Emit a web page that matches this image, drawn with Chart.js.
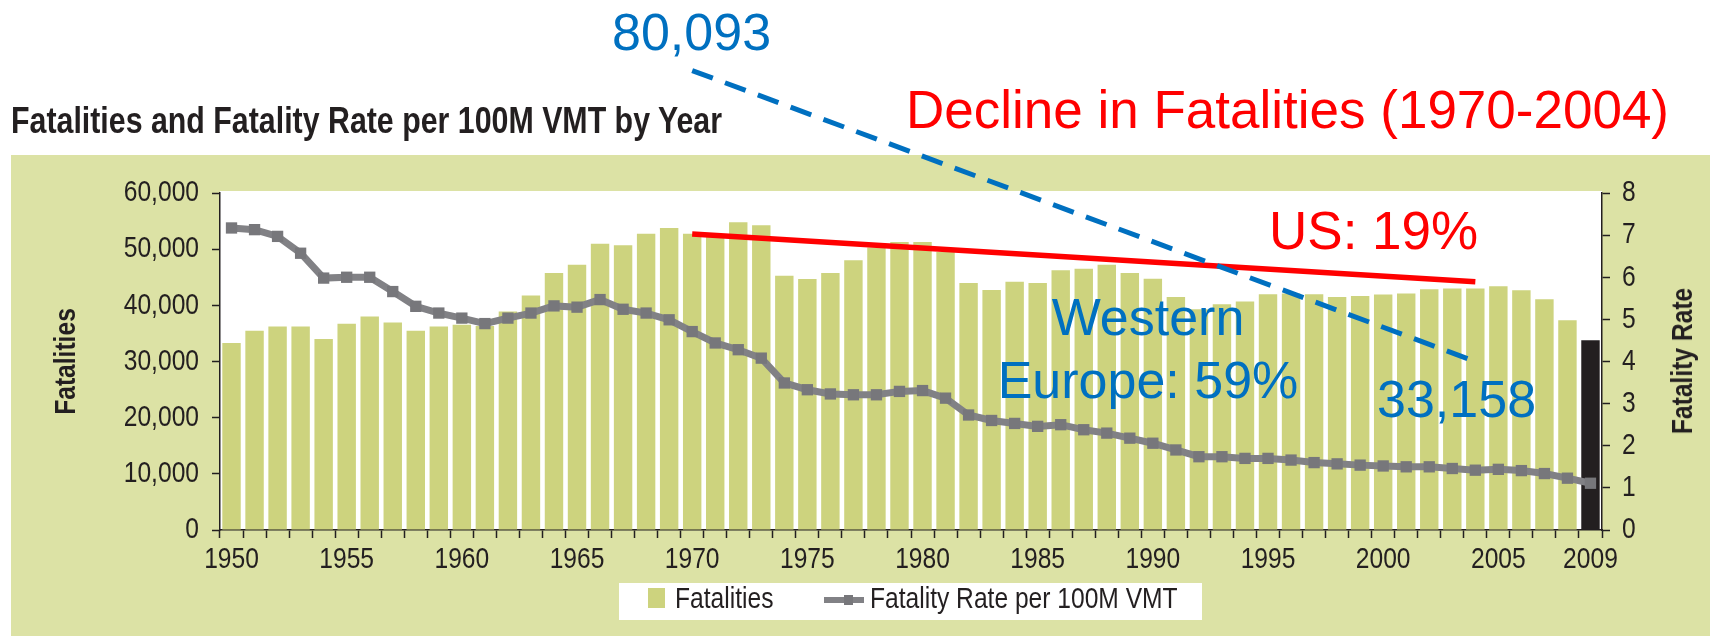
<!DOCTYPE html>
<html>
<head>
<meta charset="utf-8">
<script src="https://cdn.jsdelivr.net/npm/chart.js@4.4.1/dist/chart.umd.min.js"></script>
<style>
  html, body { margin: 0; padding: 0; background: #fff; }
  body { position: relative; width: 1714px; height: 636px; overflow: hidden; }
  #chart { position: absolute; left: 0; top: 0; }
  .txt { position: absolute; white-space: nowrap; line-height: 1; }
  /* no narrow face installed: squeeze Liberation Sans like Arial Narrow */
  .narrow { font-family: "Liberation Sans", Arial, sans-serif; color: #231f20;
            transform: scaleX(0.82); transform-origin: 0 0; }
  .big { font-family: "Liberation Sans", Arial, sans-serif; }
  .blue { color: #0070c0; }
  .red { color: #ff0000; }
  #legend { position: absolute; left: 619px; top: 583px; width: 583px; height: 37px; background: #fff; }
</style>
</head>
<body>
<canvas id="chart" width="1714" height="636"></canvas>

<div class="txt narrow" style="left:11px; top:102px; font-size:37px; font-weight:bold;">Fatalities and Fatality Rate per 100M VMT by Year</div>
<div class="txt narrow" style="left:1682px; top:361px; font-size:30px; font-weight:bold; transform-origin:50% 50%; transform:translate(-50%,-50%) rotate(-90deg) scaleX(0.82);">Fatality Rate</div>

<div id="legend">
  <span style="position:absolute; left:29px; top:5px; width:17px; height:20px; background:#cdd37e;"></span>
  <span class="txt narrow" style="left:56px; top:0px; font-size:30px;">Fatalities</span>
  <span style="position:absolute; left:205px; top:14px; width:40px; height:6px; background:#818185;"></span>
  <span style="position:absolute; left:225px; top:12px; width:9px; height:10px; background:#77777b;"></span>
  <span class="txt narrow" style="left:251px; top:0px; font-size:30px;">Fatality Rate per 100M VMT</span>
</div>

<div class="txt big blue" style="left:612px; top:6px; font-size:52px;">80,093</div>
<div class="txt big red" style="left:906px; top:83px; font-size:53px;">Decline in Fatalities (1970-2004)</div>
<div class="txt big red" style="left:1269px; top:204px; font-size:53px;">US: 19%</div>
<div class="txt big blue" style="left:1148px; top:291px; font-size:52px; transform:translateX(-50%);">Western</div>
<div class="txt big blue" style="left:1148px; top:354px; font-size:52px; transform:translateX(-50%);">Europe: 59%</div>
<div class="txt big blue" style="left:1377px; top:373px; font-size:52px;">33,158</div>

<script>
// ---------------------------------------------------------------------------
// Data
// ---------------------------------------------------------------------------

const years = [];
for (let y = 1950; y <= 2009; y++) years.push(String(y));

const fatalities = [
  33300, 35470, 36240, 36240, 33990, 36720, 38030, 36960, 35470, 36240,
  36540, 36300, 38920, 41770, 45750, 47240, 50980, 50680, 52760, 53770,
  52760, 52500, 54780, 54250, 45280, 44680, 45750, 48010, 50300, 51280,
  51280, 49500, 43970, 42720, 44200, 43970, 46230, 46520, 47240, 45750,
  44740, 41470, 39300, 40200, 40700, 41970, 42090, 41970, 41490, 41670,
  41910, 42090, 42860, 42980, 42980, 43390, 42690, 41080, 37340, 33790,
];

const fatalityRate = [
  7.17, 7.13, 6.97, 6.57, 5.98, 6.00, 6.00, 5.66, 5.31, 5.15,
  5.03, 4.90, 5.03, 5.15, 5.32, 5.29, 5.47, 5.24, 5.15, 4.99,
  4.71, 4.44, 4.28, 4.08, 3.49, 3.33, 3.23, 3.21, 3.21, 3.29,
  3.31, 3.13, 2.73, 2.60, 2.53, 2.46, 2.50, 2.38, 2.30, 2.18,
  2.06, 1.90, 1.74, 1.74, 1.70, 1.70, 1.66, 1.60, 1.57, 1.54,
  1.52, 1.50, 1.50, 1.46, 1.42, 1.44, 1.41, 1.34, 1.23, 1.11,
];

// hand-drawn trend lines (1970 -> 2004), on the fatalities scale
const trendYears = ["1970", "2004"];
const usTrend = [52700, 44200];
const europeTrend = [81800, 30000];

const labeledYears = ["1950", "1955", "1960", "1965", "1970", "1975", "1980",
                      "1985", "1990", "1995", "2000", "2005", "2009"];

// ---------------------------------------------------------------------------
// Chart
// ---------------------------------------------------------------------------

const INK = "#231f20";
const PANEL = "#dce2a5";
const BAR = "#cdd37e";
const NARROW = 0.82;   // Arial Narrow is roughly Arial at 82% width

Chart.defaults.font.family = "'Liberation Sans', Arial, sans-serif";
Chart.defaults.color = INK;

const backgrounds = {
  id: "backgrounds",
  beforeInit(chart) {
    // condense every label the chart writes (no narrow font available)
    const ctx = chart.ctx;
    const fill = ctx.fillText.bind(ctx);
    ctx.fillText = (t, x, y, maxW) => {
      const w = ctx.measureText(t).width * NARROW;
      fill(t, x, y, maxW > 0 ? Math.min(maxW, w) : w);
    };
  },
  beforeDraw(chart) {
    const { ctx, chartArea: a } = chart;
    ctx.save();
    ctx.fillStyle = PANEL;
    ctx.fillRect(11, 155, 1699, 481);
    ctx.fillStyle = "#fff";
    ctx.fillRect(a.left, a.top - 2, a.right - a.left, a.bottom - a.top + 2);
    ctx.restore();
  },
};

const pairs = (vals) => trendYears.map((x, i) => ({ x, y: vals[i] }));

const tickFont = { size: 30 };
const axisLine = { display: true, color: INK, width: 1.5 };
const axisGrid = { drawOnChartArea: false, tickLength: 8, tickColor: INK, tickWidth: 1.5 };

new Chart(document.getElementById("chart"), {
  type: "bar",
  plugins: [backgrounds],
  data: {
    labels: years,
    datasets: [
      {
        type: "line",
        label: "Europe trend",
        data: pairs(europeTrend),
        borderColor: "#0070c0",
        borderWidth: 5,
        borderDash: [22, 13],
        pointRadius: 0,
        clip: false,
        order: 1,
      },
      {
        type: "line",
        label: "US trend",
        data: pairs(usTrend),
        borderColor: "#ff0000",
        borderWidth: 5.5,
        pointRadius: 0,
        clip: false,
        order: 2,
      },
      {
        type: "line",
        label: "Fatality Rate per 100M VMT",
        data: fatalityRate,
        yAxisID: "y1",
        borderColor: "#818185",
        borderWidth: 7,
        pointStyle: "rect",
        pointRadius: 8,
        pointBorderWidth: 0,
        pointBackgroundColor: "#77777b",
        order: 3,
      },
      {
        label: "Fatalities",
        data: fatalities,
        backgroundColor: (c) => (c.dataIndex === years.length - 1 ? INK : BAR),
        barPercentage: 0.8,
        categoryPercentage: 1,
        order: 4,
      },
    ],
  },
  options: {
    responsive: false,
    animation: false,
    layout: { padding: { top: 193, left: 11, right: 0, bottom: 56 } },
    plugins: { legend: { display: false }, tooltip: { enabled: false } },
    scales: {
      x: {
        border: axisLine,
        grid: axisGrid,
        ticks: {
          autoSkip: false,
          maxRotation: 0,
          padding: 4,
          font: tickFont,
          callback(v) {
            const lab = this.getLabelForValue(v);
            return labeledYears.includes(lab) ? lab : "";
          },
        },
        afterFit: (s) => { s.height = 50; },
      },
      y: {
        position: "left",
        min: 0,
        max: 60000,
        border: axisLine,
        grid: axisGrid,
        ticks: {
          stepSize: 10000,
          padding: 13,
          font: tickFont,
          callback: (v) => v.toLocaleString("en-US"),
        },
        title: {
          display: true,
          text: "Fatalities",
          font: { size: 30, weight: "bold" },
          padding: { top: 38, bottom: 0 },
        },
        afterFit: (s) => { s.width = 209; },
      },
      y1: {
        position: "right",
        min: 0,
        max: 8,
        border: axisLine,
        grid: axisGrid,
        ticks: { stepSize: 1, padding: 12, font: tickFont },
        afterFit: (s) => { s.width = 112; },
      },
    },
  },
});
</script>
</body>
</html>
